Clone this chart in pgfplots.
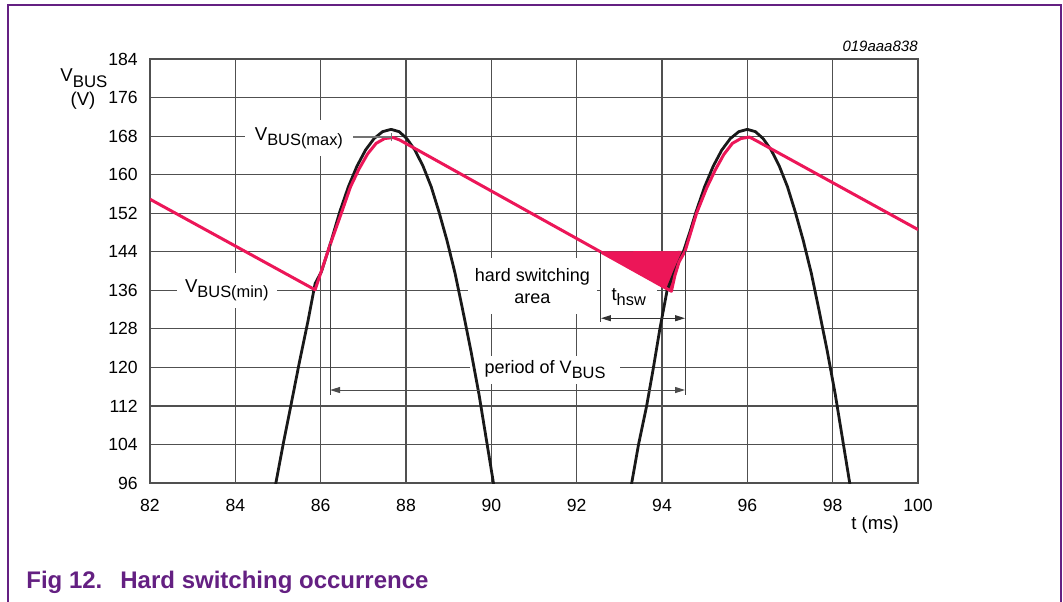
\documentclass[border=0pt]{standalone}
\usepackage{fontspec}
\setmainfont{Liberation Sans}
\usepackage{pgfplots}
\pgfplotsset{compat=1.18}
\usetikzlibrary{arrows.meta}
\definecolor{vpink}{RGB}{236,22,88}
\definecolor{nxppurple}{RGB}{100,32,130}
\definecolor{gridc}{RGB}{80,80,80}
\newcommand{\sub}[1]{\raisebox{-2.5pt}{\fontsize{8.2}{9}\selectfont #1}}

\begin{document}
\begin{tikzpicture}[x=1pt,y=1pt]
\useasboundingbox (0,0) rectangle (531.5,300.5);
\draw[nxppurple, line width=0.8pt] (4,-3) -- (4,298) -- (530.5,298) -- (530.5,-3);
\begin{axis}[
  at={(75pt,59pt)}, anchor=south west,
  scale only axis, width=384pt, height=212pt,
  xmin=82, xmax=100, ymin=96, ymax=184,
  xtick={82,84,...,100}, ytick={96,104,...,184},
  grid=major,
  grid style={gridc, line width=0.6pt},
  axis line style={gridc, line width=0.6pt},
  major tick length=0pt,
  tick label style={font=\fontsize{8.8}{10}\selectfont},
  /pgf/number format/assume math mode=true,
  yticklabel style={xshift=-2.6pt},
  xticklabel style={yshift=-4.6pt},
]
% white label boxes (cover grid)
\node[fill=white, minimum width=54pt, minimum height=18pt, inner sep=0pt, font=\fontsize{9.3}{11}\selectfont] at (axis cs:85.49,167.6) {V\sub{BUS(max)}};
\node[fill=white, minimum width=50pt, minimum height=17.5pt, inner sep=0pt, font=\fontsize{9.3}{11}\selectfont] at (axis cs:83.80,136.05) {V\sub{BUS(min)}};
\node[fill=white, minimum width=64.5pt, minimum height=28pt, inner sep=0pt, align=center, font=\fontsize{9}{11}\selectfont] at (axis cs:90.96,136.9) {hard switching\\area};
\node[fill=white, minimum width=28pt, minimum height=14.5pt, inner sep=0pt, font=\fontsize{9.3}{11}\selectfont] at (axis cs:93.22,134.5) {t\sub{hsw}};
\node[fill=white, minimum width=75pt, minimum height=14pt, inner sep=0pt, font=\fontsize{9}{11}\selectfont] at (axis cs:91.26,119.5) {period of V\sub{BUS}};

% hard switching area
\addplot[fill=vpink, draw=vpink, line width=0.3pt, mark=none] coordinates {
(92.55,144.0) (94.22,135.8) (94.30,139.0) (94.40,141.9) (94.54,144.1)} -- cycle;

% rectified input (black)
\addplot[black!90, line width=1.4pt, mark=none, line join=round] coordinates {
(84.75,87.0) (84.95,96.0) (85.12,104.0) (85.30,112.0) (85.50,121.0) (85.70,129.5)
(85.87,137.4) (86.02,139.9) (86.25,146.35) (86.45,152.36) (86.65,157.51) (86.85,161.75)
(87.05,165.09) (87.25,167.48) (87.45,168.92) (87.65,169.4)
(87.84,168.92) (88.02,167.48) (88.21,165.09) (88.40,161.75) (88.59,157.51) (88.77,152.36)
(88.96,146.35) (89.15,139.51) (89.33,131.87) (89.52,123.51) (89.71,114.44) (89.89,104.66)
(90.08,94.33) (90.27,83.47)};
\addplot[black!90, line width=1.4pt, mark=none, line join=round] coordinates {
(93.10,87.0) (93.29,96.0) (93.45,104.0) (93.64,112.0) (93.80,120.0) (93.95,128.0)
(94.12,136.0) (94.30,140.0) (94.50,144.0) (94.66,148.3) (94.80,152.36) (95.00,157.51)
(95.20,161.75) (95.40,165.09) (95.60,167.48) (95.80,168.92) (96.00,169.4)
(96.19,168.92) (96.37,167.48) (96.56,165.09) (96.75,161.75) (96.94,157.51) (97.12,152.36)
(97.31,146.35) (97.50,139.51) (97.68,131.87) (97.87,123.51) (98.06,114.44) (98.24,104.66)
(98.43,94.33) (98.62,83.47)};

% bus voltage (pink)
\addplot[vpink, line width=1.5pt, mark=none, line join=round] coordinates {
(82.00,154.9) (85.87,136.1) (86.22,145.4) (86.50,152.4) (86.70,157.5) (86.90,161.2)
(87.10,164.3) (87.30,166.5) (87.50,167.5) (87.70,167.7) (87.85,167.2)
(94.22,135.8) (94.30,139.0) (94.40,141.9) (94.54,144.1) (94.81,152.0) (95.05,157.3)
(95.25,161.0) (95.45,164.2) (95.65,166.5) (95.85,167.5) (96.05,167.8) (96.20,167.1)
(100.00,148.6)};

% leader for Vbus(max)
\draw[black!55, line width=0.9pt] (axis cs:86.76,167.8) -- (axis cs:87.65,167.8);
\draw[black!55, line width=0.5pt] (axis cs:87.65,166.9) -- (axis cs:87.65,168.7);

% dimension lines
\draw[black!75, line width=0.5pt] (axis cs:86.22,145.6) -- (axis cs:86.22,114.3);
\draw[black!75, line width=0.5pt] (axis cs:94.54,144.1) -- (axis cs:94.54,114.3);
\draw[black!75, line width=0.5pt] (axis cs:92.57,144.0) -- (axis cs:92.57,129.4);
\draw[black!70, line width=0.5pt, {Triangle[length=5pt,width=3pt]}-{Triangle[length=5pt,width=3pt]}] (axis cs:86.22,115.3) -- (axis cs:94.54,115.3);
\draw[black!80, line width=0.5pt, {Triangle[length=5pt,width=3pt]}-{Triangle[length=5pt,width=3pt]}] (axis cs:92.57,130.2) -- (axis cs:94.54,130.2);
\end{axis}

% axis labels
\node[anchor=base west, inner sep=0pt, font=\fontsize{9.3}{11}\selectfont] at (30,259.6) {V\raisebox{-2.8pt}{\fontsize{8.4}{9}\selectfont BUS}};
\node[anchor=base, inner sep=0pt, font=\fontsize{9.3}{11}\selectfont] at (41.5,247.5) {(V)};
\node[anchor=base, inner sep=0pt, font=\fontsize{9.3}{11}\selectfont] at (437.5,36) {t (ms)};
\node[anchor=base east, inner sep=0pt, font=\itshape\fontsize{7.5}{9}\selectfont] at (459,274.8) {019aaa838};
% title
\node[anchor=base west, inner sep=0pt, text=nxppurple, font=\bfseries\fontsize{12}{14}\selectfont] at (13,6.4) {Fig 12.\hspace{9pt}Hard switching occurrence};
\end{tikzpicture}
\end{document}
